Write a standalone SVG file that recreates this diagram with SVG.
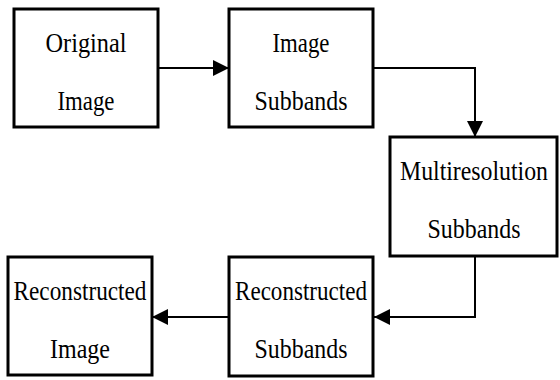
<svg xmlns="http://www.w3.org/2000/svg" width="560" height="380" viewBox="0 0 560 380">
  <style>
    .box { fill: #ffffff; stroke: #000000; stroke-width: 3; }
    .lbl { font-family: "Liberation Serif", "Times New Roman", serif; font-size: 28px; fill: #000000; text-anchor: middle; }
    .conn { fill: none; stroke: #000000; stroke-width: 2; }
  </style>
  <defs>
    <marker id="arrow" markerUnits="userSpaceOnUse" markerWidth="16" markerHeight="16" refX="16" refY="8" orient="auto">
      <path d="M0,0 L16,8 L0,16 Z" fill="#000000"/>
    </marker>
  </defs>
  <rect width="560" height="380" fill="#ffffff"/>
  <g id="connectors">
    <line class="conn" x1="158" y1="68" x2="229" y2="68" marker-end="url(#arrow)"/>
    <polyline class="conn" points="373,68 475,68 475,137" marker-end="url(#arrow)"/>
    <polyline class="conn" points="475,256 475,317 374,317" marker-end="url(#arrow)"/>
    <line class="conn" x1="229" y1="317" x2="152" y2="317" marker-end="url(#arrow)"/>
  </g>
  <g id="original-image">
    <rect class="box" x="14" y="9" width="144" height="118"/>
    <text class="lbl" x="86" y="52" textLength="81" lengthAdjust="spacingAndGlyphs">Original</text>
    <text class="lbl" x="86" y="110" textLength="57" lengthAdjust="spacingAndGlyphs">Image</text>
  </g>
  <g id="image-subbands">
    <rect class="box" x="229" y="9" width="144" height="118"/>
    <text class="lbl" x="301" y="52" textLength="57" lengthAdjust="spacingAndGlyphs">Image</text>
    <text class="lbl" x="301" y="110" textLength="93" lengthAdjust="spacingAndGlyphs">Subbands</text>
  </g>
  <g id="multiresolution-subbands">
    <rect class="box" x="390" y="137" width="167" height="119"/>
    <text class="lbl" x="474" y="180" textLength="148" lengthAdjust="spacingAndGlyphs">Multiresolution</text>
    <text class="lbl" x="474" y="238" textLength="93" lengthAdjust="spacingAndGlyphs">Subbands</text>
  </g>
  <g id="reconstructed-subbands">
    <rect class="box" x="229" y="257" width="144" height="119"/>
    <text class="lbl" x="301" y="300" textLength="132" lengthAdjust="spacingAndGlyphs">Reconstructed</text>
    <text class="lbl" x="301" y="358" textLength="93" lengthAdjust="spacingAndGlyphs">Subbands</text>
  </g>
  <g id="reconstructed-image">
    <rect class="box" x="8" y="257" width="144" height="118"/>
    <text class="lbl" x="80" y="300" textLength="133" lengthAdjust="spacingAndGlyphs">Reconstructed</text>
    <text class="lbl" x="80" y="358" textLength="60" lengthAdjust="spacingAndGlyphs">Image</text>
  </g>
</svg>
